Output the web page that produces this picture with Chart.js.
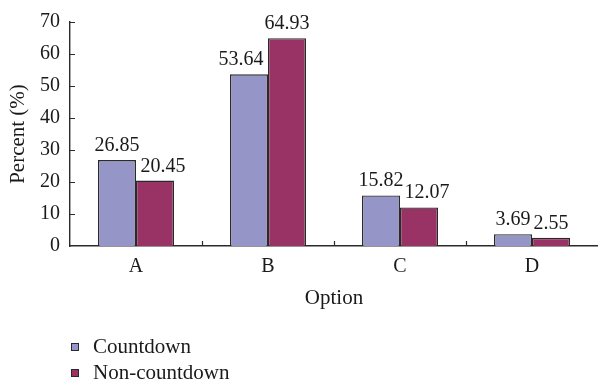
<!DOCTYPE html>
<html>
<head>
<meta charset="utf-8">
<script src="https://cdn.jsdelivr.net/npm/chart.js@4/dist/chart.umd.min.js"></script>
<style>
  html, body { margin: 0; padding: 0; background: #ffffff; }
  #wrap { width: 598px; height: 386px; }
</style>
</head>
<body>
<div id="wrap"><canvas id="chart" width="598" height="386"></canvas></div>
<script>
// Survey answers per option, in percent
const categories = ['A', 'B', 'C', 'D'];
const countdown = [26.85, 53.64, 15.82, 3.69];
const nonCountdown = [20.45, 64.93, 12.07, 2.55];
const seriesNames = ['Countdown', 'Non-countdown'];
const yMin = 0;
const yMax = 70;
const yStep = 10;

const SERIF = '"Liberation Serif", "Times New Roman", serif';
const INK = '#1a1a1a';
const EDGE = '#2a2a2a';
const COLORS = ['#9595c8', '#993366'];

// Short tick marks pointing into the plot area on both axes
const innerTicks = {
  id: 'innerTicks',
  afterDraw(chart) {
    const { ctx, chartArea, scales } = chart;
    const x = scales.x, y = scales.y;
    ctx.save();
    ctx.strokeStyle = EDGE;
    ctx.lineWidth = 1.2;
    ctx.beginPath();
    for (let v = yMin + yStep; v <= yMax; v += yStep) {
      const py = Math.round(y.getPixelForValue(v)) + 0.5;
      ctx.moveTo(chartArea.left, py);
      ctx.lineTo(chartArea.left + 5, py);
    }
    for (let i = 0; i < categories.length - 1; i++) {
      const px = Math.round((x.getPixelForValue(i) + x.getPixelForValue(i + 1)) / 2) + 0.5;
      ctx.moveTo(px, chartArea.bottom);
      ctx.lineTo(px, chartArea.bottom - 5);
    }
    ctx.stroke();
    ctx.restore();
  }
};

// Value labels above each bar; when a pair sits close, the lower label steps aside
const valueLabels = {
  id: 'valueLabels',
  afterDatasetsDraw(chart) {
    const { ctx } = chart;
    const gap = 9;
    ctx.save();
    ctx.font = '20px ' + SERIF;
    ctx.fillStyle = INK;
    ctx.textAlign = 'center';
    ctx.textBaseline = 'alphabetic';
    const m0 = chart.getDatasetMeta(0), m1 = chart.getDatasetMeta(1);
    categories.forEach((c, i) => {
      const items = [m0, m1].map((meta, d) => {
        const bar = meta.data[i];
        const text = chart.data.datasets[d].data[i].toFixed(2);
        return { text, x: bar.x, y: bar.y - gap, w: ctx.measureText(text).width };
      });
      const [a, b] = items;
      const need = (a.w + b.w) / 2 + 1 - (b.x - a.x);
      if (need > 0 && Math.abs(a.y - b.y) < 40) {
        if (a.y > b.y) a.x -= need; else b.x += need;
      }
      items.forEach(it => ctx.fillText(it.text, it.x, it.y));
    });
    ctx.restore();
  }
};

// Stacked legend beneath the axis
const stackedLegend = {
  id: 'stackedLegend',
  afterDraw(chart) {
    const { ctx } = chart;
    ctx.save();
    ctx.font = '21px ' + SERIF;
    ctx.textAlign = 'left';
    ctx.textBaseline = 'middle';
    chart.data.datasets.forEach((ds, i) => {
      const cy = 347 + i * 26;
      ctx.fillStyle = ds.backgroundColor;
      ctx.fillRect(71, cy - 4, 8, 8);
      ctx.strokeStyle = EDGE;
      ctx.lineWidth = 1;
      ctx.strokeRect(71.5, cy - 3.5, 7, 7);
      ctx.fillStyle = INK;
      ctx.fillText(ds.label, 93, cy);
    });
    ctx.restore();
  }
};

new Chart(document.getElementById('chart'), {
  type: 'bar',
  data: {
    labels: categories,
    datasets: [
      { label: seriesNames[0], data: countdown, backgroundColor: COLORS[0], borderColor: EDGE, borderWidth: 1.4 },
      { label: seriesNames[1], data: nonCountdown, backgroundColor: COLORS[1], borderColor: EDGE, borderWidth: 1.4 }
    ]
  },
  options: {
    responsive: false,
    devicePixelRatio: 1,
    animation: false,
    layout: { padding: { top: 21, right: 0, bottom: 74, left: 0 } },
    datasets: { bar: { categoryPercentage: 0.576, barPercentage: 1 } },
    plugins: {
      legend: { display: false },
      tooltip: { enabled: false }
    },
    scales: {
      x: {
        grid: { display: false, drawTicks: false },
        border: { display: true, color: EDGE, width: 1.4 },
        ticks: { color: INK, font: { family: SERIF, size: 20 }, padding: 9 },
        title: { display: true, text: 'Option', color: INK, font: { family: SERIF, size: 21 }, padding: { top: 0, bottom: 1 } },
        afterFit(scale) { scale.height = 66; }
      },
      y: {
        min: yMin,
        max: yMax,
        grid: { display: false, drawTicks: false },
        border: { display: true, color: EDGE, width: 1.4 },
        ticks: { stepSize: yStep, color: INK, font: { family: SERIF, size: 20 }, padding: 10 },
        title: { display: true, text: 'Percent (%)', color: INK, font: { family: SERIF, size: 21 }, padding: { top: 6, bottom: 0 } },
        afterFit(scale) { scale.width = 70; }
      }
    }
  },
  plugins: [innerTicks, valueLabels, stackedLegend]
});
</script>
</body>
</html>
